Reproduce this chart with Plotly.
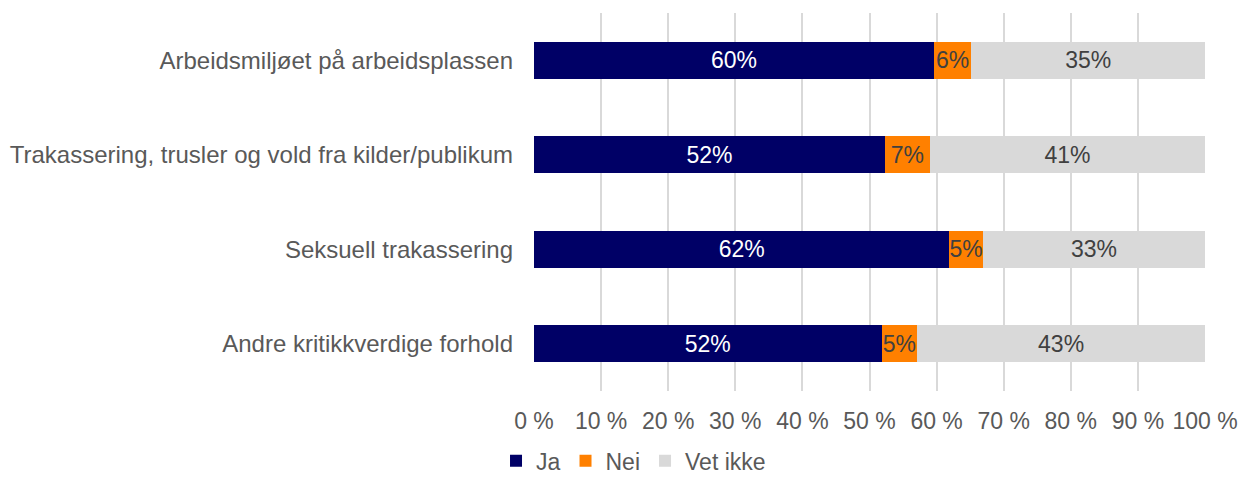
import plotly.graph_objects as go

categories = [
    "Arbeidsmiljøet på arbeidsplassen",
    "Trakassering, trusler og vold fra kilder/publikum",
    "Seksuell trakassering",
    "Andre kritikkverdige forhold",
]
ja = [59.6, 52.3, 61.9, 51.8]
nei = [5.6, 6.7, 5.0, 5.3]
vet_ikke = [34.8, 41.0, 33.1, 42.9]

tick_vals = [0, 10, 20, 30, 40, 50, 60, 70, 80, 90, 100]
tick_text = ["0 %", "10 %", "20 %", "30 %", "40 %", "50 %", "60 %", "70 %", "80 %", "90 %", "100 %"]

FONT = "Liberation Sans, Arial, sans-serif"

series = [
    ("Ja", ja, "#000066", "#ffffff"),
    ("Nei", nei, "#ff8000", "#404040"),
    ("Vet ikke", vet_ikke, "#d9d9d9", "#404040"),
]

fig = go.Figure()
for name, vals, color, txtcolor in series:
    fig.add_trace(go.Bar(
        name=name,
        y=categories,
        x=vals,
        orientation="h",
        marker=dict(color=color, line=dict(width=0)),
        texttemplate="%{x:.0f}%",
        textposition="inside",
        insidetextanchor="middle",
        textangle=0,
        constraintext="none",
        textfont=dict(family=FONT, size=23, color=txtcolor),
    ))

fig.update_layout(
    barmode="stack",
    bargap=0.61,
    width=1252,
    height=480,
    margin=dict(l=534, r=47, t=13, b=89, autoexpand=False),
    paper_bgcolor="white",
    plot_bgcolor="white",
    font=dict(family=FONT, size=23, color="#595959"),
    xaxis=dict(
        range=[0, 100],
        tickvals=tick_vals,
        ticktext=tick_text,
        showgrid=True,
        gridcolor="#d9d9d9",
        gridwidth=2,
        zeroline=False,
        showline=False,
        ticks="",
        automargin=False,
        tickfont=dict(family=FONT, size=23, color="#595959"),
        ticklabelstandoff=14,
    ),
    yaxis=dict(
        categoryorder="array",
        categoryarray=categories,
        autorange="reversed",
        showgrid=False,
        ticks="",
        showline=False,
        automargin=False,
        tickfont=dict(family=FONT, size=24, color="#595959"),
        ticklabelstandoff=20,
    ),
    legend=dict(
        orientation="h",
        xref="container",
        yref="container",
        x=0.506,
        xanchor="center",
        y=0.04,
        yanchor="middle",
        font=dict(family=FONT, size=23, color="#595959"),
        traceorder="normal",
        itemwidth=30,
    ),
    showlegend=True,
)

fig.write_html("out.html")
